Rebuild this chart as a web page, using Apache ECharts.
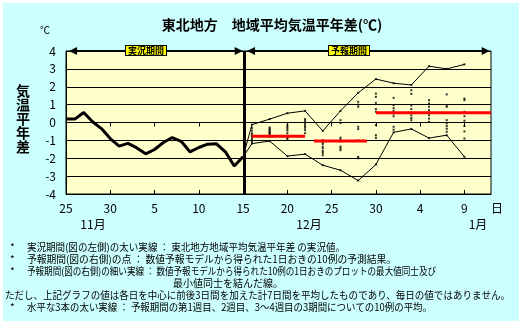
<!DOCTYPE html>
<html><head><meta charset="utf-8">
<script src="https://cdn.jsdelivr.net/npm/echarts@6/dist/echarts.min.js"></script>
<style>html,body{margin:0;padding:0;background:#fff}#c{width:529px;height:329px}</style>
</head><body><div id="c"></div>
<script>
// ---------- data ----------
const chartTitle = '東北地方　地域平均気温平年差(℃)';
const yName = '気温平年差';
const yUnit = '℃';
const xTickDays = [0, 5, 10, 15, 20, 25, 30, 35, 40, 45];
const xTickLabels = ['25', '30', '5', '10', '15', '20', '25', '30', '4', '9'];
const monthLabels = ['11月', '12月', '1月'];
const dayUnit = '日';
const periodLabels = ['実況期間', '予報期間'];

// observed (days since 25 Nov)
const obsDays = [0,1,2,3,4,5,6,7,8,9,10,11,12,13,14,15,16,17,18,19,20];
const obsValues = [0.19,0.19,0.56,0.04,-0.34,-0.9,-1.32,-1.17,-1.42,-1.75,-1.51,-1.12,-0.84,-1.05,-1.64,-1.4,-1.21,-1.19,-1.64,-2.43,-1.92];

// forecast: 10 members every other day
const fcDays = [21,23,25,27,29,31,33,35,37,39,41,43,45];
const fc21 = [-0.12,-0.3,-0.45,-0.6,-0.7,-0.8,-0.9,-1.0,-1.1,-1.18];
const fc23 = [0.19,-0.28,-0.35,-0.42,-0.5,-0.55,-0.6,-0.67,-0.8,-1.04];
const fc25 = [0.52,-0.15,-0.25,-0.35,-0.45,-0.6,-0.75,-0.85,-0.92,-1.88];
const fc27 = [0.65,0.19,0.1,0.0,-0.1,-0.2,-0.3,-0.43,-0.6,-1.77];
const fc29 = [-0.47,-0.99,-1.1,-1.2,-1.35,-1.45,-1.6,-1.7,-1.83,-2.39];
const fc31 = [0.65,0.13,-0.03,-0.85,-0.95,-1.05,-1.35,-1.45,-1.55,-2.67];
const fc33 = [1.66,1.16,1.0,0.88,-0.24,-0.37,-1.0,-1.92,-2.0,-3.25];
const fc35 = [2.43,1.62,1.44,1.1,0.75,0.6,-0.15,-0.71,-0.86,-2.35];
const fc37 = [2.2,1.38,0.97,0.8,0.65,0.5,0.35,-0.24,-0.4,-0.55];
const fc39 = [2.1,1.8,1.6,0.95,0.75,0.55,0.4,0.25,0.13,-0.36];
const fc41 = [3.15,1.25,1.06,0.88,0.69,0.56,0.41,0.22,0.04,-0.87];
const fc43 = [3.0,1.57,0.97,0.88,0.13,-0.05,-0.2,-0.35,-0.52,-0.71];
const fc45 = [3.25,1.34,1.25,0.6,0.35,0.1,-0.2,-0.5,-0.9,-1.92];
const fcMembers = [fc21,fc23,fc25,fc27,fc29,fc31,fc33,fc35,fc37,fc39,fc41,fc43,fc45];

// weekly means of the 10 members
const weekStart = [21, 28, 35];
const weekEnd = [27, 34, 48];
const weekMeans = [-0.77, -1.03, 0.54];

const notes = [
  '実況期間(図の左側)の太い実線 ： 東北地方地域平均気温平年差 の実況値。',
  '予報期間(図の右側)の点 ： 数値予報モデルから得られた1日おきの10例の予測結果。',
  '予報期間(図の右側)の細い実線 ： 数値予報モデルから得られた10例の1日おきのプロットの最大値同士及び',
  '最小値同士を結んだ線。',
  'ただし、上記グラフの値は各日を中心に前後3日間を加えた計7日間を平均したものであり、毎日の値ではありません。',
  '水平な3本の太い実線 ： 予報期間の第1週目、2週目、3～4週目の3期間についての10例の平均。'
];
const noteStar = [true, true, true, false, false, true];

// ---------- build ----------
const FONT = '"Noto Sans CJK JP", "Noto Sans", sans-serif';
const lastObs = [obsDays[obsDays.length-1], obsValues[obsValues.length-1]];
const dots = [];
fcDays.forEach((d, i) => fcMembers[i].forEach(v => dots.push([d, v])));
const maxLine = [lastObs].concat(fcDays.map((d, i) => [d, Math.max(...fcMembers[i])]));
const minLine = [lastObs].concat(fcDays.map((d, i) => [d, Math.min(...fcMembers[i])]));
const dividerDay = 20.15;

const chart = echarts.init(document.getElementById('c'), null, {renderer: 'canvas'});

const zeroAxis = (inside) => ({
  type: 'value', min: 0, max: 48, position: 'bottom',
  axisLine: {show: true, onZero: true, lineStyle: {color: '#000', width: 1}},
  axisTick: {show: true, inside: inside, length: 4, customValues: xTickDays.slice(1), lineStyle: {color: '#000'}},
  axisLabel: {show: false}, splitLine: {show: false}
});

const weekSeries = weekMeans.map((m, i) => ({
  type: 'line', data: [[weekStart[i], m], [weekEnd[i], m]], symbol: 'none',
  lineStyle: {color: '#ff0000', width: 3}, z: 5, silent: true
}));

// footnotes (layout)
const noteFont = '10px ' + FONT;
const measureCtx = document.createElement('canvas').getContext('2d');
measureCtx.font = noteFont;
const noteY = [247, 259, 271, 283, 295, 307];
const noteX = [27, 27, 27, 173, 5, 27];
const noteEnd = [345, 396, 436, null, 510, 432];
const notesGraphic = [];
notes.forEach((t, i) => {
  if (noteStar[i]) notesGraphic.push({type: 'text', x: 10, y: noteY[i], style: {text: '*', font: noteFont, fill: '#000', verticalAlign: 'middle'}});
  const w = measureCtx.measureText(t).width;
  const sx = noteEnd[i] ? Math.min(1.05, (noteEnd[i] - noteX[i]) / w) : 1;
  notesGraphic.push({type: 'text', x: noteX[i], y: noteY[i], scaleX: sx, style: {text: t, font: noteFont, fill: '#000', verticalAlign: 'middle'}});
});

const monthX = [93, 309, 478];

chart.setOption({
  animation: false,
  backgroundColor: '#fff',
  grid: {left: 66, top: 51, width: 425, height: 143, show: true, backgroundColor: '#ffffcc', borderColor: '#000', borderWidth: 1, containLabel: false},
  xAxis: [
    {type: 'value', min: 0, max: 48, position: 'bottom',
     axisLine: {show: false, onZero: false}, axisTick: {show: false}, splitLine: {show: false},
     axisLabel: {customValues: xTickDays, margin: 8, color: '#000', fontSize: 12, fontFamily: FONT,
       formatter: v => { const k = xTickDays.indexOf(v); return k >= 0 ? xTickLabels[k] : ''; }}},
    zeroAxis(false), zeroAxis(true)
  ],
  yAxis: {type: 'value', min: -4, max: 4, interval: 1,
    axisLine: {show: true, lineStyle: {color: '#000'}}, axisTick: {show: false},
    axisLabel: {color: '#000', fontSize: 12, fontFamily: FONT, margin: 10},
    splitLine: {show: true, lineStyle: {color: '#000', width: 1}}},
  series: [
    {type: 'scatter', data: dots, symbol: 'rect', symbolSize: [2, 2], itemStyle: {color: '#000'}, z: 3, silent: true},
    {type: 'line', data: maxLine, symbol: 'none', lineStyle: {color: '#000', width: 1}, z: 4, silent: true,
     markLine: {silent: true, symbol: ['triangle', 'triangle'], symbolSize: [8, 8], label: {show: false},
       lineStyle: {color: '#000', width: 2, type: 'solid'},
       data: [[{coord: [0.8, 4]}, {coord: [19.5, 4]}], [{coord: [20.9, 4]}, {coord: [47.4, 4]}]]}},
    {type: 'line', data: minLine, symbol: 'none', lineStyle: {color: '#000', width: 1}, z: 4, silent: true},
    ...weekSeries,
    {type: 'line', data: obsDays.map((d, i) => [d, obsValues[i]]), symbol: 'none', lineStyle: {color: '#000', width: 3}, z: 6, silent: true,
     markLine: {silent: true, symbol: 'none', label: {show: false}, lineStyle: {color: '#000', width: 3, type: 'solid'},
       data: [{xAxis: dividerDay}]}}
  ],
  graphic: [
    {type: 'rect', shape: {x: 3, y: 3, width: 516, height: 318}, style: {fill: '#ccffff'}, z: -100, silent: true},
    {type: 'text', x: 272, y: 25, style: {text: chartTitle, font: 'bold 14px ' + FONT, fill: '#000', align: 'center', verticalAlign: 'middle'}},
    {type: 'text', x: 45, y: 30, style: {text: yUnit, font: '10px ' + FONT, fill: '#000', align: 'center', verticalAlign: 'middle'}},
    {type: 'text', x: 23, y: 84, style: {text: yName.split('').join('\n'), font: 'bold 14px ' + FONT, lineHeight: 14, fill: '#000', align: 'center', verticalAlign: 'top'}},
    ...monthLabels.map((m, i) => ({type: 'text', x: monthX[i], y: 224, style: {text: m, font: '12px ' + FONT, fill: '#000', align: 'center', verticalAlign: 'middle'}})),
    {type: 'text', x: 497, y: 208, style: {text: dayUnit, font: '12px ' + FONT, fill: '#000', align: 'center', verticalAlign: 'middle'}},
    {type: 'text', x: 146, y: 50.5, z: 100, style: {text: periodLabels[0], font: 'bold 9px ' + FONT, fill: '#000', align: 'center', verticalAlign: 'middle', backgroundColor: '#ffff00', borderColor: '#000', borderWidth: 1, padding: [0, 2]}},
    {type: 'text', x: 349, y: 50.5, z: 100, style: {text: periodLabels[1], font: 'bold 9px ' + FONT, fill: '#000', align: 'center', verticalAlign: 'middle', backgroundColor: '#ffff00', borderColor: '#000', borderWidth: 1, padding: [0, 2]}},
    ...notesGraphic
  ]
});
</script></body></html>
